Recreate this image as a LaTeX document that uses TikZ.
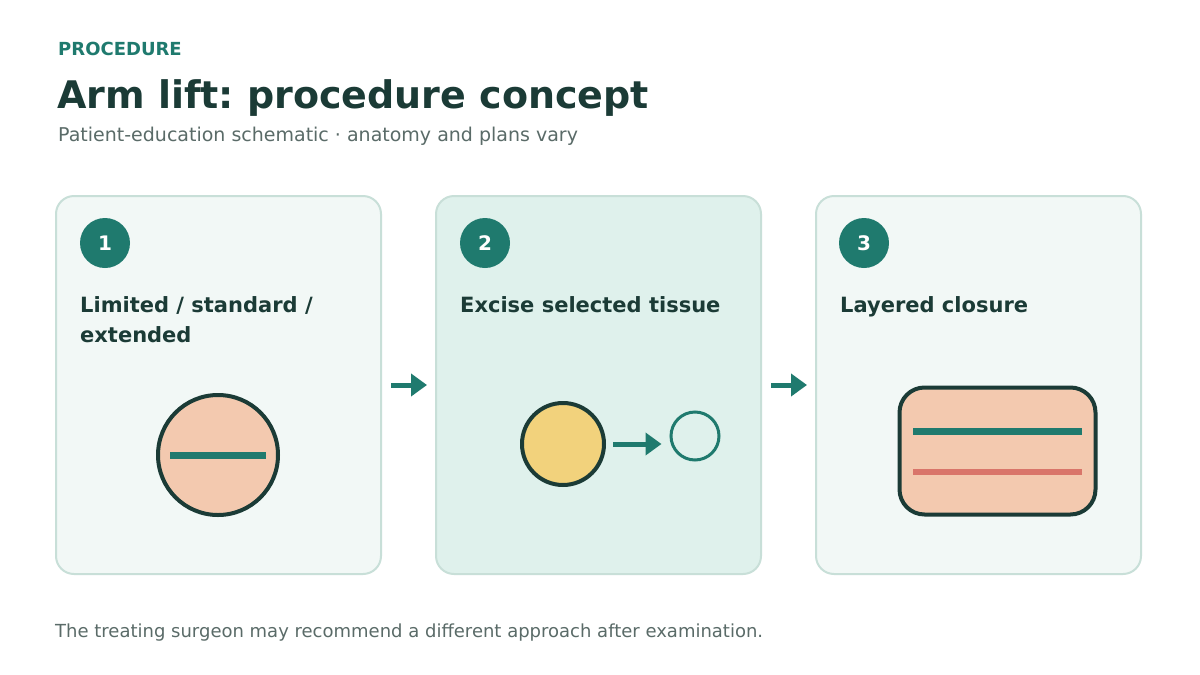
\documentclass[tikz,border=0pt]{standalone}
\usepackage{fontspec}
\setmainfont{DejaVu Sans}
\frenchspacing
\usetikzlibrary{arrows.meta}
\definecolor{ink}{HTML}{1B3B36}
\definecolor{teal}{HTML}{1F7A6E}
\definecolor{greytext}{HTML}{5A6B68}
\definecolor{cardline}{HTML}{C8DFD8}
\definecolor{cardfill}{HTML}{F2F8F6}
\definecolor{cardhi}{HTML}{DFF1EC}
\definecolor{peach}{HTML}{F3C9AF}
\definecolor{sand}{HTML}{F2D27C}
\definecolor{coral}{HTML}{D9756A}
\tikzset{
  card/.style={draw=cardline, line width=2pt, fill=cardfill, rounded corners=18pt,
    minimum width=325pt, minimum height=378pt, inner sep=0pt},
  badge/.style={circle, fill=teal, minimum size=50pt, inner sep=0pt, text=white,
    font=\bfseries\fontsize{20}{20}\selectfont},
  cardtitle/.style={anchor=base west, inner sep=0pt, text=ink, align=left,
    font=\bfseries\fontsize{21}{30}\selectfont},
  flow/.style={draw=teal, line width=5pt, -{Triangle[length=16pt,width=22pt]}},
  tissue/.style={draw=ink, line width=4pt},
}
\begin{document}
\begin{tikzpicture}[x=1pt,y=-1pt]
\useasboundingbox (0,0) rectangle (1200,675);
\fill[white] (0,0) rectangle (1200,675);
% header
\node[anchor=base west, inner sep=0pt, text=teal, font=\bfseries\fontsize{18}{18}\selectfont] (kicker) at (58,55) {PROCEDURE};
\node[anchor=base west, inner sep=0pt, text=ink, font=\bfseries\fontsize{38}{38}\selectfont] (title) at (57,108) {Arm lift: procedure concept};
\node[anchor=base west, inner sep=0pt, text=greytext, font=\fontsize{19}{19}\selectfont] (sub) at (58,141) {Patient-education schematic · anatomy and plans vary};
% cards
\node[card] (c1) at (218.5,385) {};
\node[card, fill=cardhi] (c2) at (598.5,385) {};
\node[card] (c3) at (978.5,385) {};
% badges
\node[badge] (b1) at (105,243) {1};
\node[badge] (b2) at (485,243) {2};
\node[badge] (b3) at (864,243) {3};
% titles
\node[cardtitle] (t1) at (80,342) {Limited / standard /\\extended};
\node[cardtitle] (t2) at (460,312) {Excise selected tissue};
\node[cardtitle] (t3) at (840,312) {Layered closure};
% flow arrows
\draw[flow, shorten <=9pt, shorten >=8pt] (c1.east) -- (c2.west);
\draw[flow, shorten <=9pt, shorten >=8pt] (c2.east) -- (c3.west);
% card 1 icon
\node[tissue, circle, fill=peach, minimum size=120pt, inner sep=0pt] (arm1) at (218,455) {};
\draw[draw=teal, line width=7pt] ([xshift=-48pt]arm1.center) coordinate (bl) -- ([xshift=48pt]arm1.center) coordinate (br);
% card 2 icon
\node[tissue, circle, fill=sand, minimum size=82pt, inner sep=0pt] (fat) at (563,444) {};
\node[circle, draw=teal, line width=3pt, minimum size=48pt, inner sep=0pt] (removed) at (695,436) {};
\draw[flow, shorten <=7pt, shorten >=8pt] (fat.east) -- (removed.west |- fat.east);
% card 3 icon
\node[tissue, rounded corners=25pt, fill=peach, minimum width=196pt, minimum height=127pt, inner sep=0pt] (closure) at (997.5,451) {};
\draw[draw=teal, line width=7pt] (913,431) coordinate (d1) -- (1082,431) coordinate (d2);
\draw[draw=coral, line width=6pt] (913,472) coordinate (s1) -- (1082,472) coordinate (s2);
% footer
\node[anchor=base west, inner sep=0pt, text=greytext, font=\fontsize{18}{18}\selectfont] (foot) at (55,637) {The treating surgeon may recommend a different approach after examination.};
\end{tikzpicture}
\end{document}
